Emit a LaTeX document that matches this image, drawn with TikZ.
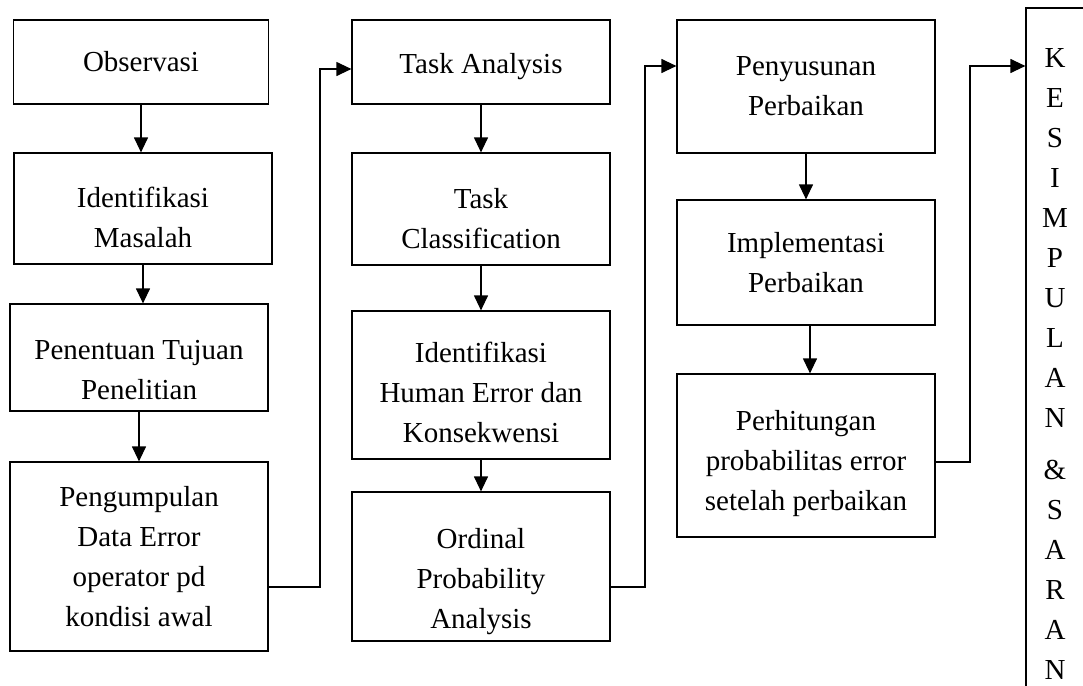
\documentclass[tikz,border=0pt]{standalone}
\usepackage{fontspec}
\setmainfont{Liberation Serif}
\usetikzlibrary{arrows.meta}
\newcommand{\topgap}[1]{\rule{0pt}{#1}}

\begin{document}
\begin{tikzpicture}[x=0.5pt,y=-0.5pt,
  box/.style={draw, line width=0.6pt, minimum width=129pt, inner sep=2pt,
    align=center, font=\fontsize{14.5}{20}\selectfont},
  flow/.style={line width=0.6pt, -{Triangle[length=7.5pt,width=7pt]}}]
  \useasboundingbox (0,0) rectangle (1083,686);
  \clip (0,0) rectangle (1083,686);
  % first column
  \node[box, minimum width=127.5pt, minimum height=42pt] (obs) at (141,62) {Observasi};
  \node[box, minimum height=55.5pt] (idm) at (143,208.5) {\topgap{19pt}Identifikasi\\Masalah};
  \node[box, minimum height=53.5pt] (tuj) at (139,357.5) {\topgap{22pt}Penentuan Tujuan\\Penelitian};
  \node[box, minimum height=94.5pt] (pgm) at (139,556.5) {Pengumpulan\\Data Error\\operator pd\\kondisi awal};
  % second column
  \node[box, minimum height=42pt] (ta) at (481,62) {\topgap{15pt}Task Analysis};
  \node[box, minimum height=56pt] (tc) at (481,209) {\topgap{20pt}Task\\Classification};
  \node[box, minimum height=74pt] (ihe) at (481,385) {\topgap{18pt}Identifikasi\\Human Error dan\\Konsekwensi};
  \node[box, minimum height=74.5pt] (opa) at (481,566.5) {\topgap{25pt}Ordinal\\Probability\\Analysis};
  % third column
  \node[box, minimum height=66.5pt] (pp) at (806,86.5) {Penyusunan\\Perbaikan};
  \node[box, minimum height=62.5pt] (ip) at (806,262.5) {Implementasi\\Perbaikan};
  \node[box, minimum height=81.5pt] (ph) at (806,455.5) {\topgap{18pt}Perhitungan\\probabilitas error\\setelah perbaikan};
  % last column
  \node[box, minimum width=29pt, minimum height=356pt] (ks) at (1055,364)
    {K\\E\\S\\I\\M\\P\\U\\L\\A\\N\\[6pt]\&\\S\\A\\R\\A\\N};

  \draw[flow] (obs.south) -- (obs.south |- idm.north);
  \draw[flow] (idm.south) -- (idm.south |- tuj.north);
  \draw[flow] (tuj.south) -- (tuj.south |- pgm.north);
  \draw[flow] (ta) -- (tc);
  \draw[flow] (tc) -- (ihe);
  \draw[flow] (ihe) -- (opa);
  \draw[flow] (pp) -- (ip);
  \draw[flow] (ip.south -| 810,0) -- (ph.north -| 810,0);

  \coordinate (j1) at (320,587);
  \coordinate (j2) at (645,587);
  \coordinate (j3) at (970,462);
  \draw[flow] (pgm.east |- j1) -- (j1) |- (ta.west |- 0,69);
  \draw[flow] (opa.east |- j2) -- (j2) |- (pp.west |- 0,66);
  \draw[flow] (ph.east |- j3) -- (j3) |- (ks.west |- 0,66);
\end{tikzpicture}
\end{document}
